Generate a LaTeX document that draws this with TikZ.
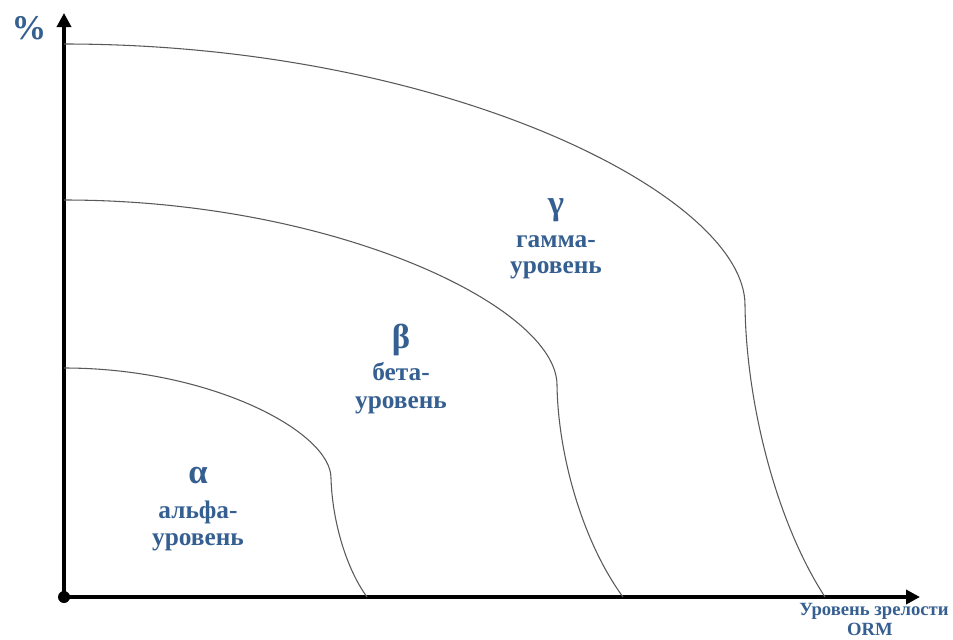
\documentclass[tikz,border=0pt]{standalone}
\usepackage{fontspec}
\setmainfont{Liberation Serif}
\usetikzlibrary{arrows.meta,positioning}
\definecolor{levelblue}{HTML}{365F91}

\begin{document}
\begin{tikzpicture}[x=0.75pt, y=-0.75pt, >={Triangle[length=10.5pt,width=10.5pt]},
  axis/.style={line width=3pt},
  level/.style={draw=black!65, line width=0.8pt},
  word/.style={text=levelblue, font=\bfseries\fontsize{19}{21}\selectfont, inner sep=0pt, anchor=base},
  greek/.style={text=levelblue, font=\bfseries\fontsize{26}{26}\selectfont, inner sep=0pt, anchor=base}]
  \useasboundingbox (0,0) rectangle (953,639);
  % axes
  \coordinate (O) at (64,597);
  \coordinate (ytop) at (64,13);
  \coordinate (xend) at (920,597);
  \draw[axis,->] (O) -- (ytop);
  \draw[axis,->] (O) -- (xend);
  \fill (O) circle (4.5pt);
  \node[word, font=\bfseries\fontsize{26}{26}\selectfont] (pct) at (29,39) {\%};
  \node[word, font=\bfseries\fontsize{14}{16}\selectfont] (xlab1) at (874,615) {Уровень зрелости};
  \node[word, font=\bfseries\fontsize{14}{16}\selectfont] (xlab2) at (870,635) {ORM};
  % level boundaries
  \draw[level] (64,44) .. controls (444,44) and (745,195) .. (745,305)
    .. controls (746,400) and (775,520) .. (825,597);
  \draw[level] (64,200) .. controls (335,200) and (557,307) .. (557,385)
    .. controls (558,454) and (582,541) .. (623,597);
  \draw[level] (64,368) .. controls (211,368) and (331,432) .. (331,478)
    .. controls (332,517) and (344.5,566) .. (367,597);
  % level names
  \node[greek] (alpha) at (198,483) {α};
  \node[word] (alpha1) at (198,518) {альфа-};
  \node[word] (alpha2) at (198,545) {уровень};
  \node[greek] (beta) at (401,348) {β};
  \node[word] (beta1) at (401,380) {бета-};
  \node[word] (beta2) at (401,408) {уровень};
  \node[greek] (gamma) at (556,214) {γ};
  \node[word] (gamma1) at (556,247) {гамма-};
  \node[word] (gamma2) at (556,273) {уровень};
\end{tikzpicture}
\end{document}
